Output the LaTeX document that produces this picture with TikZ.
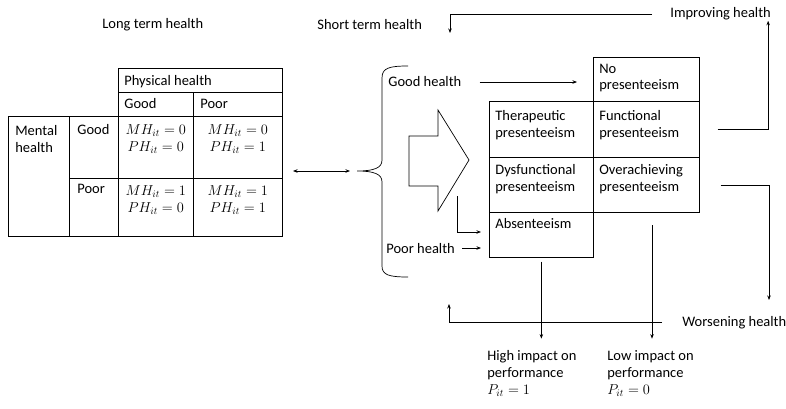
\documentclass[tikz,border=0pt]{standalone}
\usepackage{fontspec}
\setmainfont{Carlito}
\usetikzlibrary{arrows.meta}

\tikzset{
  box/.style={draw, anchor=north west, inner sep=0pt},
  txt/.style={font=\fontsize{14.5}{17}\selectfont, inner sep=0pt, align=left, anchor=base west},
  val/.style={font=\fontsize{14.5}{17}\selectfont, inner sep=0pt, align=center, anchor=base},
}

\begin{document}
\begin{tikzpicture}[x=1pt, y=-1pt, line width=0.7pt, >={Stealth[length=4.5pt,width=3.5pt]}]
\useasboundingbox (0,0) rectangle (786,409);

% Titles
\node[txt] (longterm) at (102,29) {Long term health};
\node[txt] (shortterm) at (317,30) {Short term health};
\node[txt] (improve) at (670,18) {Improving health};
\node[txt] (worse) at (682,326) {Worsening health};

% Long term health table
\node[box, minimum width=164pt, minimum height=24pt] (phys) at (118,68) {};
\node[box, minimum width=75pt, minimum height=24pt] (hg) at (118,92) {};
\node[box, minimum width=89pt, minimum height=24pt] (hp) at (193,92) {};
\node[box, minimum width=61pt, minimum height=120pt] (mental) at (8,116) {};
\node[box, minimum width=49pt, minimum height=62pt] (mg) at (69,116) {};
\node[box, minimum width=49pt, minimum height=58pt] (mp) at (69,178) {};
\node[box, minimum width=75pt, minimum height=62pt] (gg) at (118,116) {};
\node[box, minimum width=89pt, minimum height=62pt] (gp) at (193,116) {};
\node[box, minimum width=75pt, minimum height=58pt] (pg) at (118,178) {};
\node[box, minimum width=89pt, minimum height=58pt] (pp) at (193,178) {};

% (base of a two-line text is its last line)
\node[txt] at ([shift={(6,18)}]phys.north west) {Physical health};
\node[txt] at ([shift={(6,17)}]hg.north west) {Good};
\node[txt] at ([shift={(7,17)}]hp.north west) {Poor};
\node[txt] at ([shift={(7,36)}]mental.north west) {Mental\\health};
\node[txt] at ([shift={(8,19)}]mg.north west) {Good};
\node[txt] at ([shift={(8,15)}]mp.north west) {Poor};
\node[val] at ([shift={(0,35)}]gg.north) {$MH_{it}=0$\\$PH_{it}=0$};
\node[val] at ([shift={(0,35)}]gp.north) {$MH_{it}=0$\\$PH_{it}=1$};
\node[val] at ([shift={(0,34)}]pg.north) {$MH_{it}=1$\\$PH_{it}=0$};
\node[val] at ([shift={(0,34)}]pp.north) {$MH_{it}=1$\\$PH_{it}=1$};

% Link between long and short term health
\coordinate (tblout) at (293,171);
\coordinate (bracetip) at (357,171);
\draw[<->, shorten >=7pt] (tblout) -- (bracetip);

% Brace for short term health
\draw (408,66) .. controls (389,66) and (382,68) .. (382,78) -- (382,160)
  .. controls (382,168) and (374,171) .. (bracetip)
  .. controls (374,171) and (382,174) .. (382,182) -- (382,266)
  .. controls (382,275) and (389,277) .. (408,277);

\node[txt] (goodh) at (388,87) {Good health};
\node[txt] (poorh) at (386,253) {Poor health};

% Block arrow
\draw (409,136) -- (438,136) -- (438,110) -- (469,160) -- (438,211)
  -- (438,186) -- (409,186) -- cycle;

% Presenteeism grid
\node[box, minimum width=106pt, minimum height=44pt] (nopres) at (593,57) {};
\node[box, minimum width=104pt, minimum height=56pt] (thera) at (489,101) {};
\node[box, minimum width=106pt, minimum height=56pt] (func) at (593,101) {};
\node[box, minimum width=104pt, minimum height=55pt] (dysf) at (489,157) {};
\node[box, minimum width=106pt, minimum height=55pt] (over) at (593,157) {};
\node[box, minimum width=104pt, minimum height=45pt] (absen) at (489,212) {};

\node[txt] at ([shift={(6,33)}]nopres.north west) {No\\presenteeism};
\node[txt] at ([shift={(6,36)}]thera.north west) {Therapeutic\\presenteeism};
\node[txt] at ([shift={(6,36)}]func.north west) {Functional\\presenteeism};
\node[txt] at ([shift={(6,34)}]dysf.north west) {Dysfunctional\\presenteeism};
\node[txt] at ([shift={(6,34)}]over.north west) {Overachieving\\presenteeism};
\node[txt] at ([shift={(6,16)}]absen.north west) {Absenteeism};

% Arrows into the grid
\draw[->, shorten <=18pt, shorten >=16pt] (goodh.east) -- (goodh.east -| nopres.west);
\draw[->, shorten <=7pt, shorten >=8pt] (poorh.east) -- (poorh.east -| absen.west);
\coordinate (lstart) at (457,196);
\draw[->] (lstart) |- ([shift={(-8,20)}]absen.north west);

% Outcomes
\node[txt] (high) at (487,394) {High impact on\\performance\\$P_{it}=1$};
\node[txt] (low) at (607,394) {Low impact on\\performance\\$P_{it}=0$};
\coordinate (lowtop) at (652,225);
\draw[->, shorten <=4pt, shorten >=11pt] (absen.south) -- (absen.south |- high.north);
\draw[->, shorten >=11pt] (lowtop) -- (lowtop |- low.north);

% Feedback loops
\coordinate (sdown) at (450,33);
\coordinate (wdown) at (769,300);
\coordinate (wend) at (449,304);
\draw[->] ([xshift=18pt]func.east) -| ([xshift=-3pt]improve.south east);
\draw[->] ([xshift=-18pt]improve.west) -| (sdown);
\draw[->] ([xshift=21pt]over.east) -| (wdown);
\draw[->] ([xshift=-20pt]worse.west) -| (wend);
\end{tikzpicture}
\end{document}
